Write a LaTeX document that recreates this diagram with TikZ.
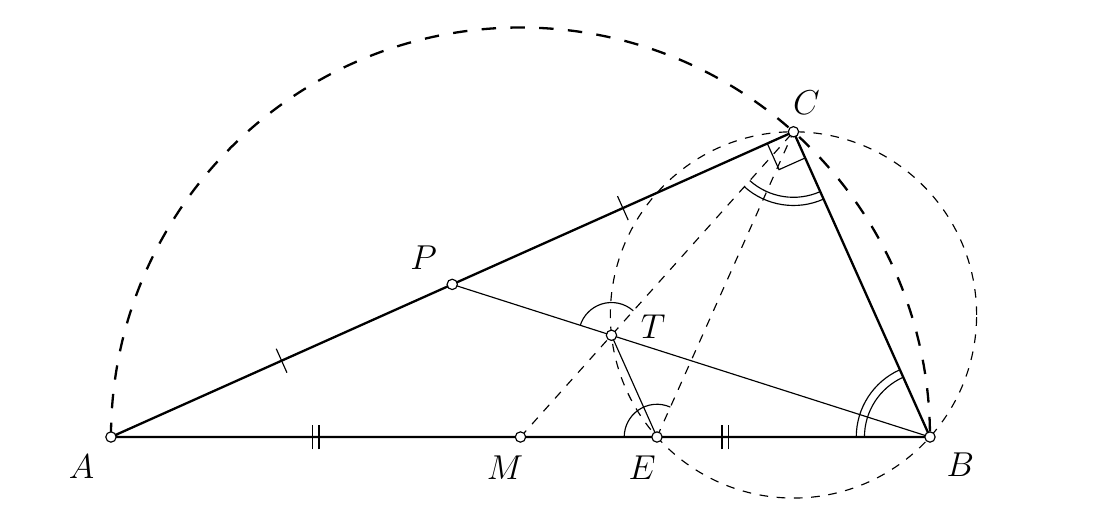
\documentclass[tikz,border=0pt]{standalone}
\usetikzlibrary{calc,angles}
\begin{document}
\begin{tikzpicture}[
  pt/.style={circle,draw,fill=white,inner sep=0pt,minimum size=3.6pt,line width=0.4pt},
  lbl/.style={font=\large,inner sep=0pt},
  tri/.style={line width=0.8pt},
  thinline/.style={line width=0.4pt},
  dsh/.style={dashed,line width=0.4pt},
  bigdash/.style={line width=0.8pt,dash pattern=on 5pt off 5pt},
  angmark/.style={draw,line width=0.4pt},
]
\useasboundingbox (-1.355,-0.891) rectangle (12.076,5.336);
\coordinate (A) at (0,0);
\coordinate (B) at (10,0);
\coordinate (M) at (5,0);
\coordinate (C) at (8.33333,3.72678);
\coordinate (E) at (6.66667,0);
\coordinate (P) at ($(A)!0.5!(C)$);
\coordinate (T) at (6.11111,1.24226);
\coordinate (O) at (8.33333,1.49071);

% circles
\draw[bigdash] (A) arc[start angle=180,end angle=0,radius=5];
\draw[dsh] (O) circle[radius=2.23607];

% dashed lines
\draw[dsh] (M) -- (C);
\draw[dsh] (E) -- (C);

% thin lines
\draw[thinline] (P) -- (B);
\draw[thinline] (T) -- (E);

% triangle
\draw[tri] (A) -- (B) -- (C) -- cycle;

% angle marks
\pic[angmark,angle radius=0.8cm] {angle=M--C--B};
\pic[angmark,angle radius=0.9cm] {angle=M--C--B};
\pic[angmark,angle radius=0.8cm] {angle=C--B--A};
\pic[angmark,angle radius=0.9cm] {angle=C--B--A};
\pic[angmark,angle radius=0.4cm] {angle=C--T--P};
\pic[angmark,angle radius=0.4cm] {angle=C--E--A};

% right angle at C
\coordinate (R1) at ($(C)!0.35cm!(A)$);
\coordinate (R2) at ($(C)!0.35cm!(B)$);
\coordinate (R3) at ($(R1)+(R2)-(C)$);
\draw[thinline] (R1) -- (R3) -- (R2);

% single ticks on AP and PC
\draw[thinline] ($(A)!0.5!(P)!0.16cm!90:(P)$) -- ($(A)!0.5!(P)!0.16cm!-90:(P)$);
\draw[thinline] ($(P)!0.5!(C)!0.16cm!90:(C)$) -- ($(P)!0.5!(C)!0.16cm!-90:(C)$);

% double ticks on AM and MB
\coordinate (D1) at ($(A)!0.5!(M)$);
\coordinate (D2) at ($(M)!0.5!(B)$);
\draw[thinline] ($(D1)+(-0.04,-0.15)$) -- ($(D1)+(-0.04,0.15)$);
\draw[thinline] ($(D1)+(0.04,-0.15)$) -- ($(D1)+(0.04,0.15)$);
\draw[thinline] ($(D2)+(-0.04,-0.15)$) -- ($(D2)+(-0.04,0.15)$);
\draw[thinline] ($(D2)+(0.04,-0.15)$) -- ($(D2)+(0.04,0.15)$);

% points
\foreach \p in {A,B,C,M,E,P,T} \node[pt] (n\p) at (\p) {};

% labels
\node[lbl] (lA) at ($(A)+(-0.36,-0.36)$) {$A$};
\node[lbl] (lB) at ($(B)+(0.37,-0.34)$) {$B$};
\node[lbl] (lC) at ($(C)+(0.16,0.35)$) {$C$};
\node[lbl] (lP) at ($(P)+(-0.35,0.32)$) {$P$};
\node[lbl] (lT) at ($(T)+(0.51,0.11)$) {$T$};
\node[lbl] (lM) at ($(M)+(-0.19,-0.38)$) {$M$};
\node[lbl] (lE) at ($(E)+(-0.18,-0.38)$) {$E$};
\end{tikzpicture}
\end{document}
